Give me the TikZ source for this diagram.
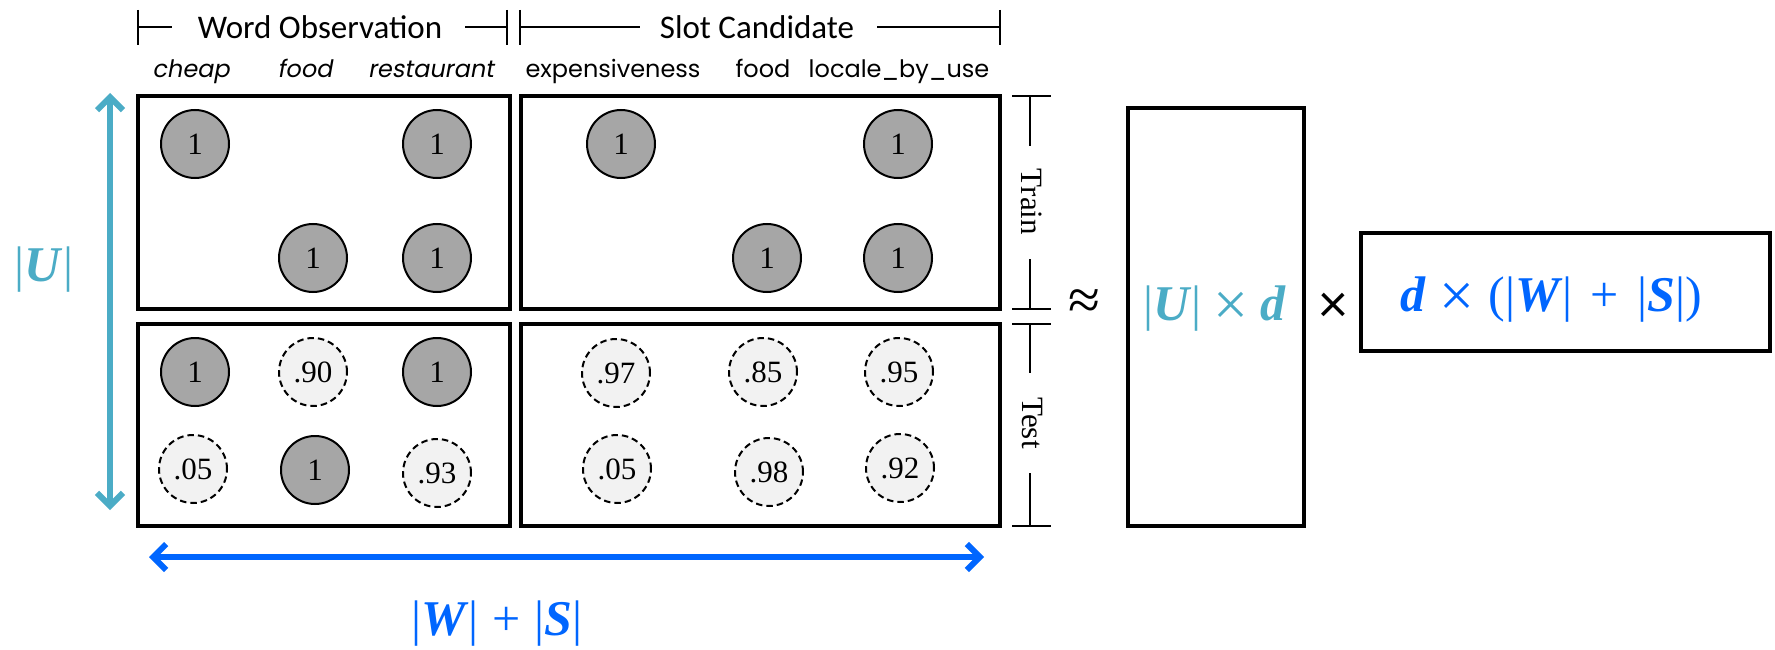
\documentclass[tikz,border=0pt]{standalone}
\usepackage{fontspec}
\setmainfont{Liberation Serif}
\newfontfamily\hdrfont{Carlito}
\newfontfamily\geofont{Poppins}
\newfontfamily\geoitfont[FakeSlant=0.18]{Poppins}
\usetikzlibrary{arrows.meta}
\definecolor{ucyan}{HTML}{4BACC6}
\definecolor{wblue}{HTML}{0066FF}
\definecolor{obsgray}{HTML}{A6A6A6}
\definecolor{predgray}{HTML}{F2F2F2}
\newcommand\bi[1]{\textbf{\textit{#1}}}
\newcommand\bigx{\raisebox{-5pt}{\fontsize{62}{64}\selectfont ×}}
\tikzset{
  obs/.style={circle, draw, line width=2pt, fill=obsgray, minimum size=68pt, inner sep=0pt, font=\fontsize{31}{36}\selectfont},
  pred/.style={obs, fill=predgray, dash pattern=on 6.5pt off 4pt},
  mbox/.style={draw, line width=4pt, rectangle, inner sep=0pt},
  fbox/.style={draw, line width=3.5pt, rectangle, inner sep=0pt},
  hdr/.style={font=\hdrfont\fontsize{33}{40}\selectfont, inner sep=0pt},
  colw/.style={font=\geoitfont\fontsize{24}{30}\selectfont, anchor=base, inner sep=0pt},
  cols/.style={font=\geofont\fontsize{24}{30}\selectfont, anchor=base, inner sep=0pt},
  brk/.style={line width=2pt},
  side/.style={rotate=-90, font=\fontsize{31}{36}\selectfont, inner sep=0pt},
  mth/.style={font=\fontsize{50}{56}\selectfont, inner sep=0pt},
  dblarr/.style={line width=6pt, line cap=round, {Straight Barb[length=13pt,width=26pt]}-{Straight Barb[length=13pt,width=26pt]}}
}
\begin{document}
\begin{tikzpicture}[x=1pt,y=-1pt]
\path[use as bounding box, fill=white] (0,0) rectangle (1775,650);

% matrix boxes
\node[mbox, minimum width=372pt, minimum height=213pt] (trainL) at (324,202.5) {};
\node[mbox, minimum width=372pt, minimum height=202pt] (testL) at (324,425) {};
\node[mbox, minimum width=479pt, minimum height=213pt] (trainR) at (760.5,202.5) {};
\node[mbox, minimum width=479pt, minimum height=202pt] (testR) at (760.5,425) {};

% header brackets
\node[hdr] (wo) at (320,27) {Word Observation};
\node[hdr] (sc) at (757,27) {Slot Candidate};
\coordinate (woL) at (138,27);
\coordinate (woR) at (507,27);
\coordinate (scL) at (520,27);
\coordinate (scR) at (1000,27);
\draw[brk] (138,10) -- (138,45);
\draw[brk] (507,10) -- (507,45);
\draw[brk] (520,10) -- (520,45);
\draw[brk] (1000,10) -- (1000,45);
\draw[brk] (woL) -- (172,27);
\draw[brk] (465,27) -- (woR);
\draw[brk] (scL) -- (640,27);
\draw[brk] (877,27) -- (scR);

% column labels
\node[colw] (c1) at (191,78) {cheap};
\node[colw] (c2) at (305,78) {food};
\node[colw] (c3) at (431,78) {restaurant};
\node[cols] (c4) at (613,78) {expensiveness};
\node[cols] (c5) at (763,78) {food};
\node[cols] (c6) at (899,78) {locale\_by\_use};

% word observation cells
\node[obs] (a11) at (195,144) {1};
\node[obs] (a13) at (437,144) {1};
\node[obs] (a22) at (313,258) {1};
\node[obs] (a23) at (437,258) {1};
\node[obs] (a31) at (195,372) {1};
\node[pred] (a32) at (313,372) {.90};
\node[obs] (a33) at (437,372) {1};
\node[pred] (a41) at (193,469) {.05};
\node[obs] (a42) at (315,470) {1};
\node[pred] (a43) at (437,473) {.93};

% slot candidate cells
\node[obs] (b11) at (621,144) {1};
\node[obs] (b13) at (898,144) {1};
\node[obs] (b22) at (767,258) {1};
\node[obs] (b23) at (898,258) {1};
\node[pred] (b31) at (616,373) {.97};
\node[pred] (b32) at (763,372) {.85};
\node[pred] (b33) at (899,372) {.95};
\node[pred] (b41) at (617,469) {.05};
\node[pred] (b42) at (769,472) {.98};
\node[pred] (b43) at (900,468) {.92};

% train / test brackets
\node[side] (train) at (1032,202) {Train};
\node[side] (test) at (1032,423) {Test};
\draw[brk] (1012,96) -- (1051,96);
\draw[brk] (1030,96) -- (1030,146);
\draw[brk] (1030,259) -- (1030,309);
\draw[brk] (1012,309) -- (1051,309);
\draw[brk] (1012,324) -- (1051,324);
\draw[brk] (1030,324) -- (1030,373);
\draw[brk] (1030,473) -- (1030,526);
\draw[brk] (1012,526) -- (1051,526);

% approx and factors
\node[font=\fontsize{58}{64}\selectfont, inner sep=0pt] (approx) at (1084,305) {≈};
\node[fbox, minimum width=176pt, minimum height=418pt] (Uf) at (1216,317) {};
\node[mth, text=ucyan] (Ut) at (1215,309) {|\bi{U}|\hspace{12pt}\bigx\hspace{12pt}\bi{d}};
\node[font=\hdrfont\fontsize{56}{60}\selectfont, inner sep=0pt] (times) at (1333,308) {×};
\node[fbox, minimum width=409pt, minimum height=118pt] (Vf) at (1565.5,292) {};
\node[mth, text=wblue] (Vt) at (1551,300) {\bi{d}\hspace{14pt}\bigx\hspace{14pt}(|\bi{W}|\hspace{18pt}+\hspace{18pt}|\bi{S}|)};

% dimension arrows
\coordinate (ut) at (110,93);
\coordinate (ub) at (110,510);
\draw[dblarr, ucyan] (ut) -- (ub);
\node[mth, text=ucyan] (Ulab) at (44,270) {|\bi{U}|};
\coordinate (wl) at (149,557);
\coordinate (wr) at (984,557);
\draw[dblarr, wblue] (wl) -- (wr);
\node[mth, text=wblue] (WSlab) at (497,624) {|\bi{W}|\hspace{14pt}+\hspace{14pt}|\bi{S}|};
\end{tikzpicture}
\end{document}
